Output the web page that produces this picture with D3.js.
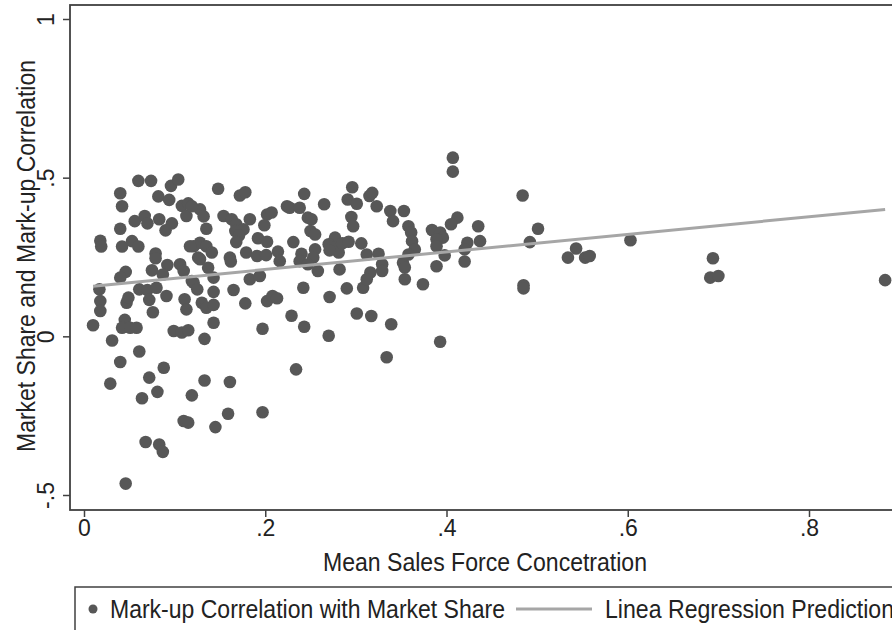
<!DOCTYPE html>
<html>
<head>
<meta charset="utf-8">
<script src="https://cdn.jsdelivr.net/npm/d3@7"></script>
<style>
  body { margin: 0; background: #fff; }
  text { font-family: "Liberation Sans", Arial, sans-serif; fill: #222; }
</style>
</head>
<body>
<div id="chart"></div>
<script>
// mean sales force concentration (x) and mark-up / market share correlation (y)
const salesConc = [
  0.010, 0.018, 0.019, 0.017, 0.018, 0.018, 0.031, 0.029, 0.040, 0.042,
  0.040, 0.042, 0.053, 0.060, 0.060, 0.074, 0.056, 0.067, 0.070, 0.083,
  0.082, 0.094, 0.096, 0.104, 0.108, 0.115, 0.113, 0.097, 0.090, 0.079,
  0.079, 0.046, 0.040, 0.075, 0.092, 0.106, 0.110, 0.087, 0.119, 0.061,
  0.070, 0.080, 0.072, 0.076, 0.091, 0.111, 0.113, 0.121, 0.125, 0.130,
  0.135, 0.143, 0.143, 0.047, 0.049, 0.045, 0.042, 0.051, 0.058, 0.061,
  0.040, 0.072, 0.088, 0.064, 0.081, 0.099, 0.108, 0.115, 0.133, 0.143,
  0.119, 0.133, 0.161, 0.110, 0.115, 0.145, 0.068, 0.083, 0.087, 0.046,
  0.121, 0.128, 0.135, 0.141, 0.126, 0.128, 0.132, 0.135, 0.119, 0.148,
  0.172, 0.178, 0.154, 0.163, 0.168, 0.176, 0.183, 0.167, 0.171, 0.168,
  0.202, 0.199, 0.207, 0.224, 0.227, 0.238, 0.243, 0.192, 0.202, 0.231,
  0.214, 0.216, 0.179, 0.191, 0.201, 0.161, 0.162, 0.240, 0.238, 0.117,
  0.128, 0.137, 0.143, 0.183, 0.194, 0.165, 0.242, 0.247, 0.178, 0.202,
  0.208, 0.213, 0.197, 0.229, 0.243, 0.271, 0.270, 0.290, 0.308, 0.301,
  0.317, 0.339, 0.334, 0.374, 0.234, 0.159, 0.197, 0.296, 0.291, 0.301,
  0.315, 0.318, 0.323, 0.338, 0.341, 0.353, 0.358, 0.361, 0.362, 0.265,
  0.295, 0.297, 0.251, 0.250, 0.255, 0.277, 0.270, 0.277, 0.281, 0.271,
  0.285, 0.292, 0.306, 0.312, 0.325, 0.329, 0.329, 0.352, 0.354, 0.255,
  0.253, 0.247, 0.258, 0.282, 0.316, 0.312, 0.354, 0.407, 0.407, 0.484,
  0.412, 0.405, 0.435, 0.437, 0.384, 0.393, 0.396, 0.389, 0.423, 0.420,
  0.389, 0.398, 0.365, 0.358, 0.389, 0.420, 0.492, 0.501, 0.485, 0.485,
  0.534, 0.543, 0.553, 0.558, 0.603, 0.694, 0.691, 0.700, 0.884, 0.393
];
const markupCorr = [
  0.035, 0.301, 0.283, 0.148, 0.111, 0.080, -0.013, -0.149, 0.451, 0.410,
  0.339, 0.283, 0.300, 0.283, 0.490, 0.490, 0.363, 0.379, 0.356, 0.369,
  0.441, 0.430, 0.474, 0.494, 0.411, 0.419, 0.379, 0.356, 0.334, 0.261,
  0.246, 0.203, 0.185, 0.208, 0.225, 0.227, 0.206, 0.195, 0.174, 0.148,
  0.146, 0.153, 0.115, 0.076, 0.127, 0.117, 0.085, 0.169, 0.148, 0.106,
  0.090, 0.140, 0.099, 0.106, 0.122, 0.052, 0.027, 0.027, 0.027, -0.048,
  -0.081, -0.130, -0.099, -0.195, -0.175, 0.017, 0.012, 0.019, -0.008, 0.043,
  -0.186, -0.139, -0.144, -0.267, -0.272, -0.286, -0.333, -0.341, -0.364, -0.464,
  0.284, 0.295, 0.284, 0.264, 0.248, 0.400, 0.378, 0.339, 0.410, 0.465,
  0.444, 0.454, 0.379, 0.369, 0.353, 0.337, 0.369, 0.332, 0.318, 0.297,
  0.384, 0.350, 0.390, 0.410, 0.405, 0.405, 0.449, 0.309, 0.298, 0.297,
  0.267, 0.237, 0.264, 0.253, 0.256, 0.248, 0.236, 0.260, 0.237, 0.284,
  0.243, 0.216, 0.185, 0.180, 0.190, 0.146, 0.153, 0.374, 0.104, 0.111,
  0.127, 0.120, 0.024, 0.065, 0.030, 0.124, 0.002, 0.151, 0.153, 0.072,
  0.064, 0.038, -0.066, 0.164, -0.104, -0.244, -0.239, 0.470, 0.431, 0.418,
  0.442, 0.452, 0.410, 0.395, 0.363, 0.395, 0.347, 0.327, 0.300, 0.416,
  0.376, 0.347, 0.369, 0.332, 0.321, 0.311, 0.290, 0.279, 0.264, 0.271,
  0.293, 0.298, 0.293, 0.258, 0.260, 0.227, 0.206, 0.232, 0.217, 0.274,
  0.248, 0.227, 0.206, 0.211, 0.201, 0.180, 0.180, 0.563, 0.519, 0.444,
  0.374, 0.353, 0.347, 0.300, 0.335, 0.327, 0.311, 0.306, 0.295, 0.274,
  0.284, 0.255, 0.274, 0.258, 0.221, 0.236, 0.297, 0.339, 0.161, 0.151,
  0.248, 0.277, 0.248, 0.253, 0.303, 0.246, 0.185, 0.190, 0.177, -0.017
];

// linear regression prediction, read at the ends of the x range
const fitX = [0.010, 0.884];
const fitY = [0.158, 0.400];

const xTicks = [0, 0.2, 0.4, 0.6, 0.8];
const xTickLabels = ["0", ".2", ".4", ".6", ".8"];
const yTicks = [-0.5, 0, 0.5, 1];
const yTickLabels = ["-.5", "0", ".5", "1"];

const width = 892, height = 630;
const fs = 23;   // tick labels
const fsT = 25;  // titles + legend, squeezed with textLength (Stata's narrow look)

const svg = d3.select("#chart")
    .append("svg")
    .attr("width", width)
    .attr("height", height);

const x = d3.scaleLinear().domain([0, 0.8]).range([84, 809]);
const y = d3.scaleLinear().domain([-0.5, 1]).range([495, 19]);

// plot frame (runs off the right edge like the original)
svg.append("rect")
    .attr("x", 70).attr("y", 5)
    .attr("width", 840).attr("height", 505)
    .attr("fill", "none")
    .attr("stroke", "#404040")
    .attr("stroke-width", 1.8);

const xAxis = svg.append("g")
    .attr("transform", "translate(0,510)")
    .call(d3.axisBottom(x).tickValues(xTicks)
        .tickFormat((d, i) => xTickLabels[i])
        .tickSize(7).tickPadding(3));
xAxis.select(".domain").remove();
xAxis.selectAll("line").attr("stroke", "#404040").attr("stroke-width", 1.5);
xAxis.selectAll("text").style("font-size", fs + "px").attr("fill", "#222");

const yAxis = svg.append("g")
    .attr("transform", "translate(70,0)")
    .call(d3.axisLeft(y).tickValues(yTicks)
        .tickFormat((d, i) => yTickLabels[i])
        .tickSize(7));
yAxis.select(".domain").remove();
yAxis.selectAll("line").attr("stroke", "#404040").attr("stroke-width", 1.5);
yAxis.selectAll("text")
    .attr("x", null).attr("dy", null)
    .attr("transform", "translate(-24,0) rotate(-90)")
    .attr("text-anchor", "middle")
    .attr("dominant-baseline", "central")
    .style("font-size", fs + "px")
    .attr("fill", "#222");

svg.append("text")
    .attr("transform", "translate(26,256) rotate(-90)")
    .attr("text-anchor", "middle")
    .attr("dominant-baseline", "central")
    .attr("textLength", 392)
    .attr("lengthAdjust", "spacingAndGlyphs")
    .style("font-size", fsT + "px")
    .text("Market Share and Mark-up Correlation");

svg.append("text")
    .attr("x", 485).attr("y", 562)
    .attr("text-anchor", "middle")
    .attr("dominant-baseline", "central")
    .attr("textLength", 324)
    .attr("lengthAdjust", "spacingAndGlyphs")
    .style("font-size", fsT + "px")
    .text("Mean Sales Force Concetration");

// points
svg.append("g")
    .selectAll("circle")
    .data(d3.zip(salesConc, markupCorr))
    .join("circle")
    .attr("cx", d => x(d[0]))
    .attr("cy", d => y(d[1]))
    .attr("r", 6.3)
    .attr("fill", "#575757");

// regression line
svg.append("path")
    .datum(d3.zip(fitX, fitY))
    .attr("d", d3.line().x(d => x(d[0])).y(d => y(d[1])))
    .attr("fill", "none")
    .attr("stroke", "#a6a6a6")
    .attr("stroke-width", 3);

// legend
const legend = svg.append("g");
legend.append("rect")
    .attr("x", 75).attr("y", 587)
    .attr("width", 825).attr("height", 60)
    .attr("fill", "none")
    .attr("stroke", "#404040")
    .attr("stroke-width", 1.5);
legend.append("circle")
    .attr("cx", 93).attr("cy", 609).attr("r", 4.5)
    .attr("fill", "#575757");
legend.append("text")
    .attr("x", 110).attr("y", 609)
    .attr("dominant-baseline", "central")
    .attr("textLength", 395)
    .attr("lengthAdjust", "spacingAndGlyphs")
    .style("font-size", fsT + "px")
    .text("Mark-up Correlation with Market Share");
legend.append("line")
    .attr("x1", 516).attr("x2", 592)
    .attr("y1", 609).attr("y2", 609)
    .attr("stroke", "#a6a6a6")
    .attr("stroke-width", 3);
legend.append("text")
    .attr("x", 605).attr("y", 609)
    .attr("dominant-baseline", "central")
    .attr("textLength", 289)
    .attr("lengthAdjust", "spacingAndGlyphs")
    .style("font-size", fsT + "px")
    .text("Linea Regression Prediction");
</script>
</body>
</html>
